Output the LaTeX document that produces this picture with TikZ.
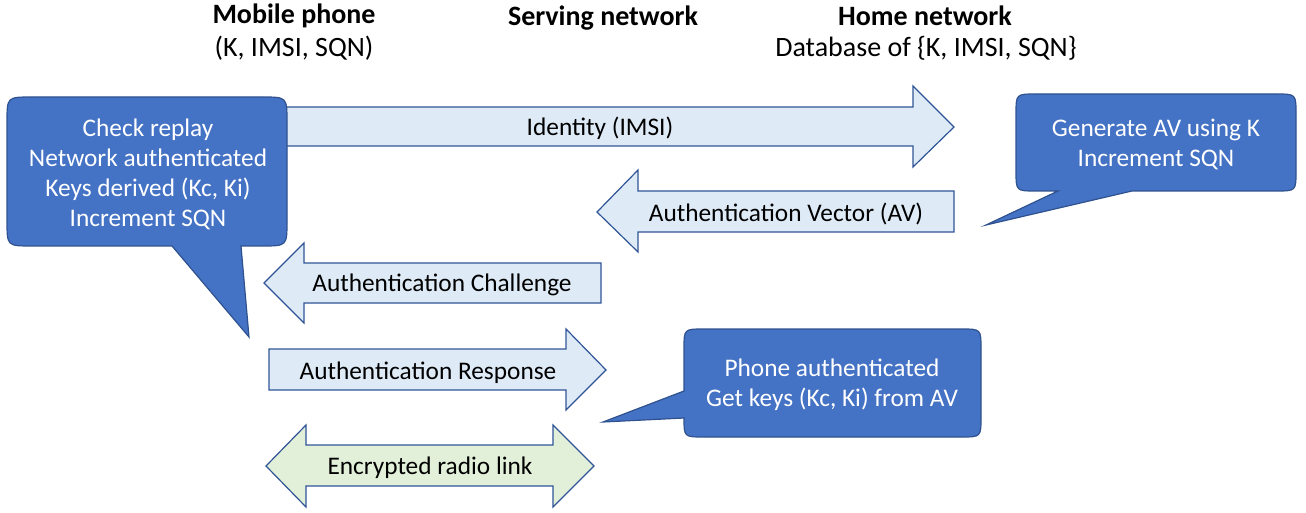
\documentclass[tikz,border=0pt]{standalone}
\usepackage{fontspec}
\setmainfont{Carlito}
\definecolor{callfill}{HTML}{4472C4}
\definecolor{callline}{HTML}{2F528F}
\definecolor{arrfill}{HTML}{DEEBF7}
\definecolor{arrline}{HTML}{2F5597}
\definecolor{grnfill}{HTML}{E2F0D9}
\tikzset{
  blockarrow/.style={fill=arrfill, draw=arrline, line width=0.9pt, line join=miter},
  greenarrow/.style={fill=grnfill, draw=arrline, line width=0.9pt, line join=miter},
  callout/.style={fill=callfill, draw=callline, line width=0.9pt, line join=miter},
  calltext/.style={text=white, align=center, inner sep=0pt, font=\fontsize{19}{22.5}\selectfont},
  arrtext/.style={text=black, align=center, inner sep=0pt, font=\fontsize{19}{22.5}\selectfont},
  headbold/.style={inner sep=0pt, font=\fontsize{21}{25}\selectfont\bfseries},
  headplain/.style={inner sep=0pt, font=\fontsize{21}{25}\selectfont},
}
\begin{document}
\begin{tikzpicture}[x=0.75pt, y=-0.75pt]
\useasboundingbox (0,0) rectangle (1306,513);

% headers
\node[headbold] (mp) at (294,16) {Mobile phone};
\node[headplain] (mpk) at (294,48) {(K, IMSI, SQN)};
\node[headbold] (sn) at (603,18) {Serving network};
\node[headbold] (hn) at (925,16) {Home network};
\node[headplain] (hnk) at (926,48) {Database of \{K, IMSI, SQN\}};

% Identity arrow
\draw[blockarrow] (270,107) -- (913,107) -- (913,86) -- (954,127) -- (913,167) -- (913,146) -- (270,146) -- cycle;
\node[arrtext] (id) at (600,128.5) {Identity (IMSI)};

% AV arrow
\draw[blockarrow] (954,191) -- (638,191) -- (638,170) -- (597,212) -- (638,252) -- (638,232) -- (954,232) -- cycle;
\node[arrtext] (av) at (786,213.5) {Authentication Vector (AV)};

% Challenge arrow
\draw[blockarrow] (601,263) -- (304,263) -- (304,243) -- (264,283) -- (304,323) -- (304,303) -- (601,303) -- cycle;
\node[arrtext] (ch) at (442,284.5) {Authentication Challenge};

% Response arrow
\draw[blockarrow] (269,349) -- (566,349) -- (566,329) -- (606,370) -- (566,410) -- (566,390) -- (269,390) -- cycle;
\node[arrtext] (re) at (428,372.5) {Authentication Response};

% Encrypted radio link
\draw[greenarrow] (306,445) -- (553,445) -- (553,425) -- (594,466) -- (553,507) -- (553,486) -- (306,486) -- (306,507) -- (266,466) -- (306,425) -- cycle;
\node[arrtext] (enc) at (430,468) {Encrypted radio link};

% Left callout
\draw[callout] (32,97) -- (262,97) .. controls (287,97) .. (287,122) -- (287,221) .. controls (287,246) .. (262,246) -- (241,246) -- (249,337) -- (172,246) -- (32,246) .. controls (7,246) .. (7,221) -- (7,122) .. controls (7,97) .. (32,97) -- cycle;
\node[calltext] (lc) at (148,174) {Check replay\\Network authenticated\\Keys derived (Kc, Ki)\\Increment SQN};

% Top right callout
\draw[callout] (1036,94) -- (1276,94) .. controls (1296,94) .. (1296,114) -- (1296,171) .. controls (1296,191) .. (1276,191) -- (1132,191) -- (986,225) -- (1058,191) -- (1036,191) .. controls (1016,191) .. (1016,171) -- (1016,114) .. controls (1016,94) .. (1036,94) -- cycle;
\node[calltext] (rc) at (1156,144) {Generate AV using K\\Increment SQN};

% Bottom callout
\draw[callout] (704,329) -- (961,329) .. controls (981,329) .. (981,349) -- (981,417) .. controls (981,437) .. (961,437) -- (704,437) .. controls (684,437) .. (684,418) -- (603,422) -- (684,391) -- (684,349) .. controls (684,329) .. (704,329) -- cycle;
\node[calltext] (bc) at (832,385) {Phone authenticated\\Get keys (Kc, Ki) from AV};
\end{tikzpicture}
\end{document}
